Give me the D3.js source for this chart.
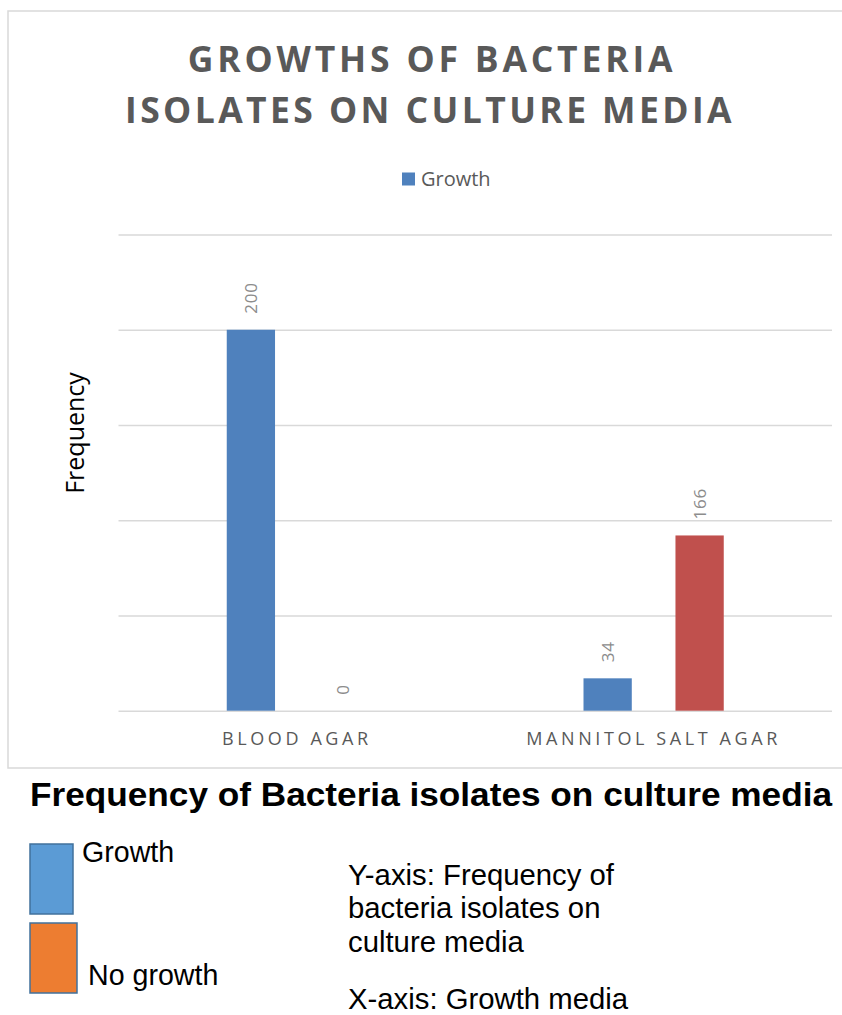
<!DOCTYPE html>
<html>
<head>
<meta charset="utf-8">
<script src="https://cdn.jsdelivr.net/npm/d3@7"></script>
<style>
  body { margin: 0; background: #fff; }
  svg { display: block; }
</style>
</head>
<body>
<div id="chart"></div>
<script>
// data
var categories = ["BLOOD AGAR", "MANNITOL SALT AGAR"];
var seriesNames = ["Growth", "No growth"];
// bar heights as drawn (in axis units, one gridline = 50)
var growthBars = [200, 17];
var noGrowthBars = [0, 92];
// numbers printed above the bars
var growthLabels = ["200", "34"];
var noGrowthLabels = ["0", "166"];
var yTicks = [0, 50, 100, 150, 200, 250];

var svgWidth = 842;
var svgHeight = 1015;

var margin = { top: 234.5, left: 118.5, right: 10, bottom: 304.3 };
var width = svgWidth - margin.left - margin.right;
var height = svgHeight - margin.top - margin.bottom;

var rows = categories.map(function (c, i) {
    return {
        cat: c,
        values: [
            { key: seriesNames[0], v: growthBars[i], label: growthLabels[i] },
            { key: seriesNames[1], v: noGrowthBars[i], label: noGrowthLabels[i] }
        ]
    };
});

var colors = d3.scaleOrdinal().domain(seriesNames).range(["#4F81BD", "#C0504D"]);

var svg = d3.select("#chart")
    .append("svg")
    .attr("width", svgWidth)
    .attr("height", svgHeight);

svg.append("rect").attr("width", svgWidth).attr("height", svgHeight).attr("fill", "#fff");

// chart frame (right side runs off the picture)
svg.append("path")
    .attr("d", "M842,11H8V768H842")
    .attr("fill", "none")
    .attr("stroke", "#d9d9d9")
    .attr("stroke-width", 1.5);

// title
var title = svg.append("text")
    .attr("text-anchor", "middle")
    .attr("font-family", "Open Sans")
    .attr("font-weight", "bold")
    .attr("font-size", 35.5)
    .attr("fill", "#595959");
title.append("tspan").attr("x", 432).attr("y", 72).attr("letter-spacing", 3.8).text("GROWTHS OF BACTERIA");
title.append("tspan").attr("x", 430).attr("y", 123).attr("letter-spacing", 3.4).text("ISOLATES ON CULTURE MEDIA");

// legend on top (only Growth is shown)
svg.append("rect")
    .attr("x", 402).attr("y", 172.5)
    .attr("width", 13).attr("height", 13)
    .attr("fill", colors("Growth"));
svg.append("text")
    .attr("x", 421).attr("y", 186)
    .attr("font-family", "Open Sans")
    .attr("font-size", 20)
    .attr("fill", "#595959")
    .text("Growth");

var chartGroup = svg.append("g")
    .attr("transform", `translate(${margin.left}, ${margin.top})`);

var x0 = d3.scaleBand()
    .domain(categories)
    .range([0, width]);

var x1 = d3.scaleBand()
    .domain(seriesNames)
    .range([0, x0.bandwidth()])
    .paddingInner(0.475)
    .paddingOuter(1.177);

var y = d3.scaleLinear()
    .domain([0, 250])
    .range([height, 0]);

// gridlines
var grid = chartGroup.append("g")
    .call(d3.axisLeft(y).tickValues(yTicks).tickSize(-width).tickFormat(""));
grid.select(".domain").remove();
grid.selectAll("line").attr("stroke", "#d9d9d9").attr("stroke-width", 1.5);

// category labels
var xAxis = chartGroup.append("g")
    .attr("transform", `translate(0, ${height})`)
    .call(d3.axisBottom(x0).tickSize(0).tickPadding(0));
xAxis.select(".domain").remove();
xAxis.selectAll("text")
    .attr("dy", 0)
    .attr("y", 34)
    .attr("dx", 0)
    .attr("font-family", "Open Sans")
    .attr("font-size", 18)
    .attr("letter-spacing", 3.6)
    .attr("fill", "#595959");

// bars
var groups = chartGroup.selectAll(".cat")
    .data(rows)
    .enter()
    .append("g")
    .attr("class", "cat")
    .attr("transform", d => `translate(${x0(d.cat)}, 0)`);

groups.selectAll("rect")
    .data(d => d.values)
    .enter()
    .append("rect")
    .attr("x", d => x1(d.key))
    .attr("width", x1.bandwidth())
    .attr("y", d => y(d.v))
    .attr("height", d => height - y(d.v))
    .attr("fill", d => colors(d.key));

// value labels, rotated
groups.selectAll(".lbl")
    .data(d => d.values)
    .enter()
    .append("text")
    .attr("class", "lbl")
    .attr("transform", d => `translate(${x1(d.key) + x1.bandwidth() / 2}, ${y(d.v) - 16}) rotate(-90)`)
    .attr("dominant-baseline", "central")
    .attr("font-family", "Open Sans")
    .attr("font-size", 17)
    .attr("letter-spacing", 0.8)
    .attr("fill", "#8c8c8c")
    .text(d => d.label);

// y axis title
svg.append("text")
    .attr("transform", "translate(84, 433) rotate(-90)")
    .attr("text-anchor", "middle")
    .attr("font-family", "Open Sans")
    .attr("font-size", 25)
    .attr("fill", "#000")
    .text("Frequency");

// caption block under the chart
svg.append("text")
    .attr("x", 30).attr("y", 806)
    .attr("font-family", "Liberation Sans, Arial, sans-serif")
    .attr("font-weight", "bold")
    .attr("font-size", 33)
    .attr("textLength", 802)
    .attr("lengthAdjust", "spacingAndGlyphs")
    .attr("fill", "#000")
    .text("Frequency of Bacteria isolates on culture media");

var keyColors = ["#5B9BD5", "#ED7D31"];
var keyBoxes = [[30, 844, 43, 70], [30, 923, 47, 70]];
svg.selectAll(".key")
    .data(seriesNames)
    .enter()
    .append("rect")
    .attr("class", "key")
    .attr("x", (d, i) => keyBoxes[i][0])
    .attr("y", (d, i) => keyBoxes[i][1])
    .attr("width", (d, i) => keyBoxes[i][2])
    .attr("height", (d, i) => keyBoxes[i][3])
    .attr("fill", (d, i) => keyColors[i])
    .attr("stroke", "#41719C")
    .attr("stroke-width", 1.5);

var keyText = [[82, 862], [88, 985]];
svg.selectAll(".keytext")
    .data(seriesNames)
    .enter()
    .append("text")
    .attr("class", "keytext")
    .attr("x", (d, i) => keyText[i][0])
    .attr("y", (d, i) => keyText[i][1])
    .attr("font-family", "Liberation Sans, Arial, sans-serif")
    .attr("font-size", 28.6)
    .attr("fill", "#000")
    .text(d => d);

var noteLines = ["Y-axis: Frequency of", "bacteria isolates on", "culture media", "X-axis: Growth media"];
var noteY = [885, 918, 952, 1009];
svg.selectAll(".note")
    .data(noteLines)
    .enter()
    .append("text")
    .attr("class", "note")
    .attr("x", 348)
    .attr("y", (d, i) => noteY[i])
    .attr("font-family", "Liberation Sans, Arial, sans-serif")
    .attr("font-size", 29.3)
    .attr("fill", "#000")
    .text(d => d);
</script>
</body>
</html>
